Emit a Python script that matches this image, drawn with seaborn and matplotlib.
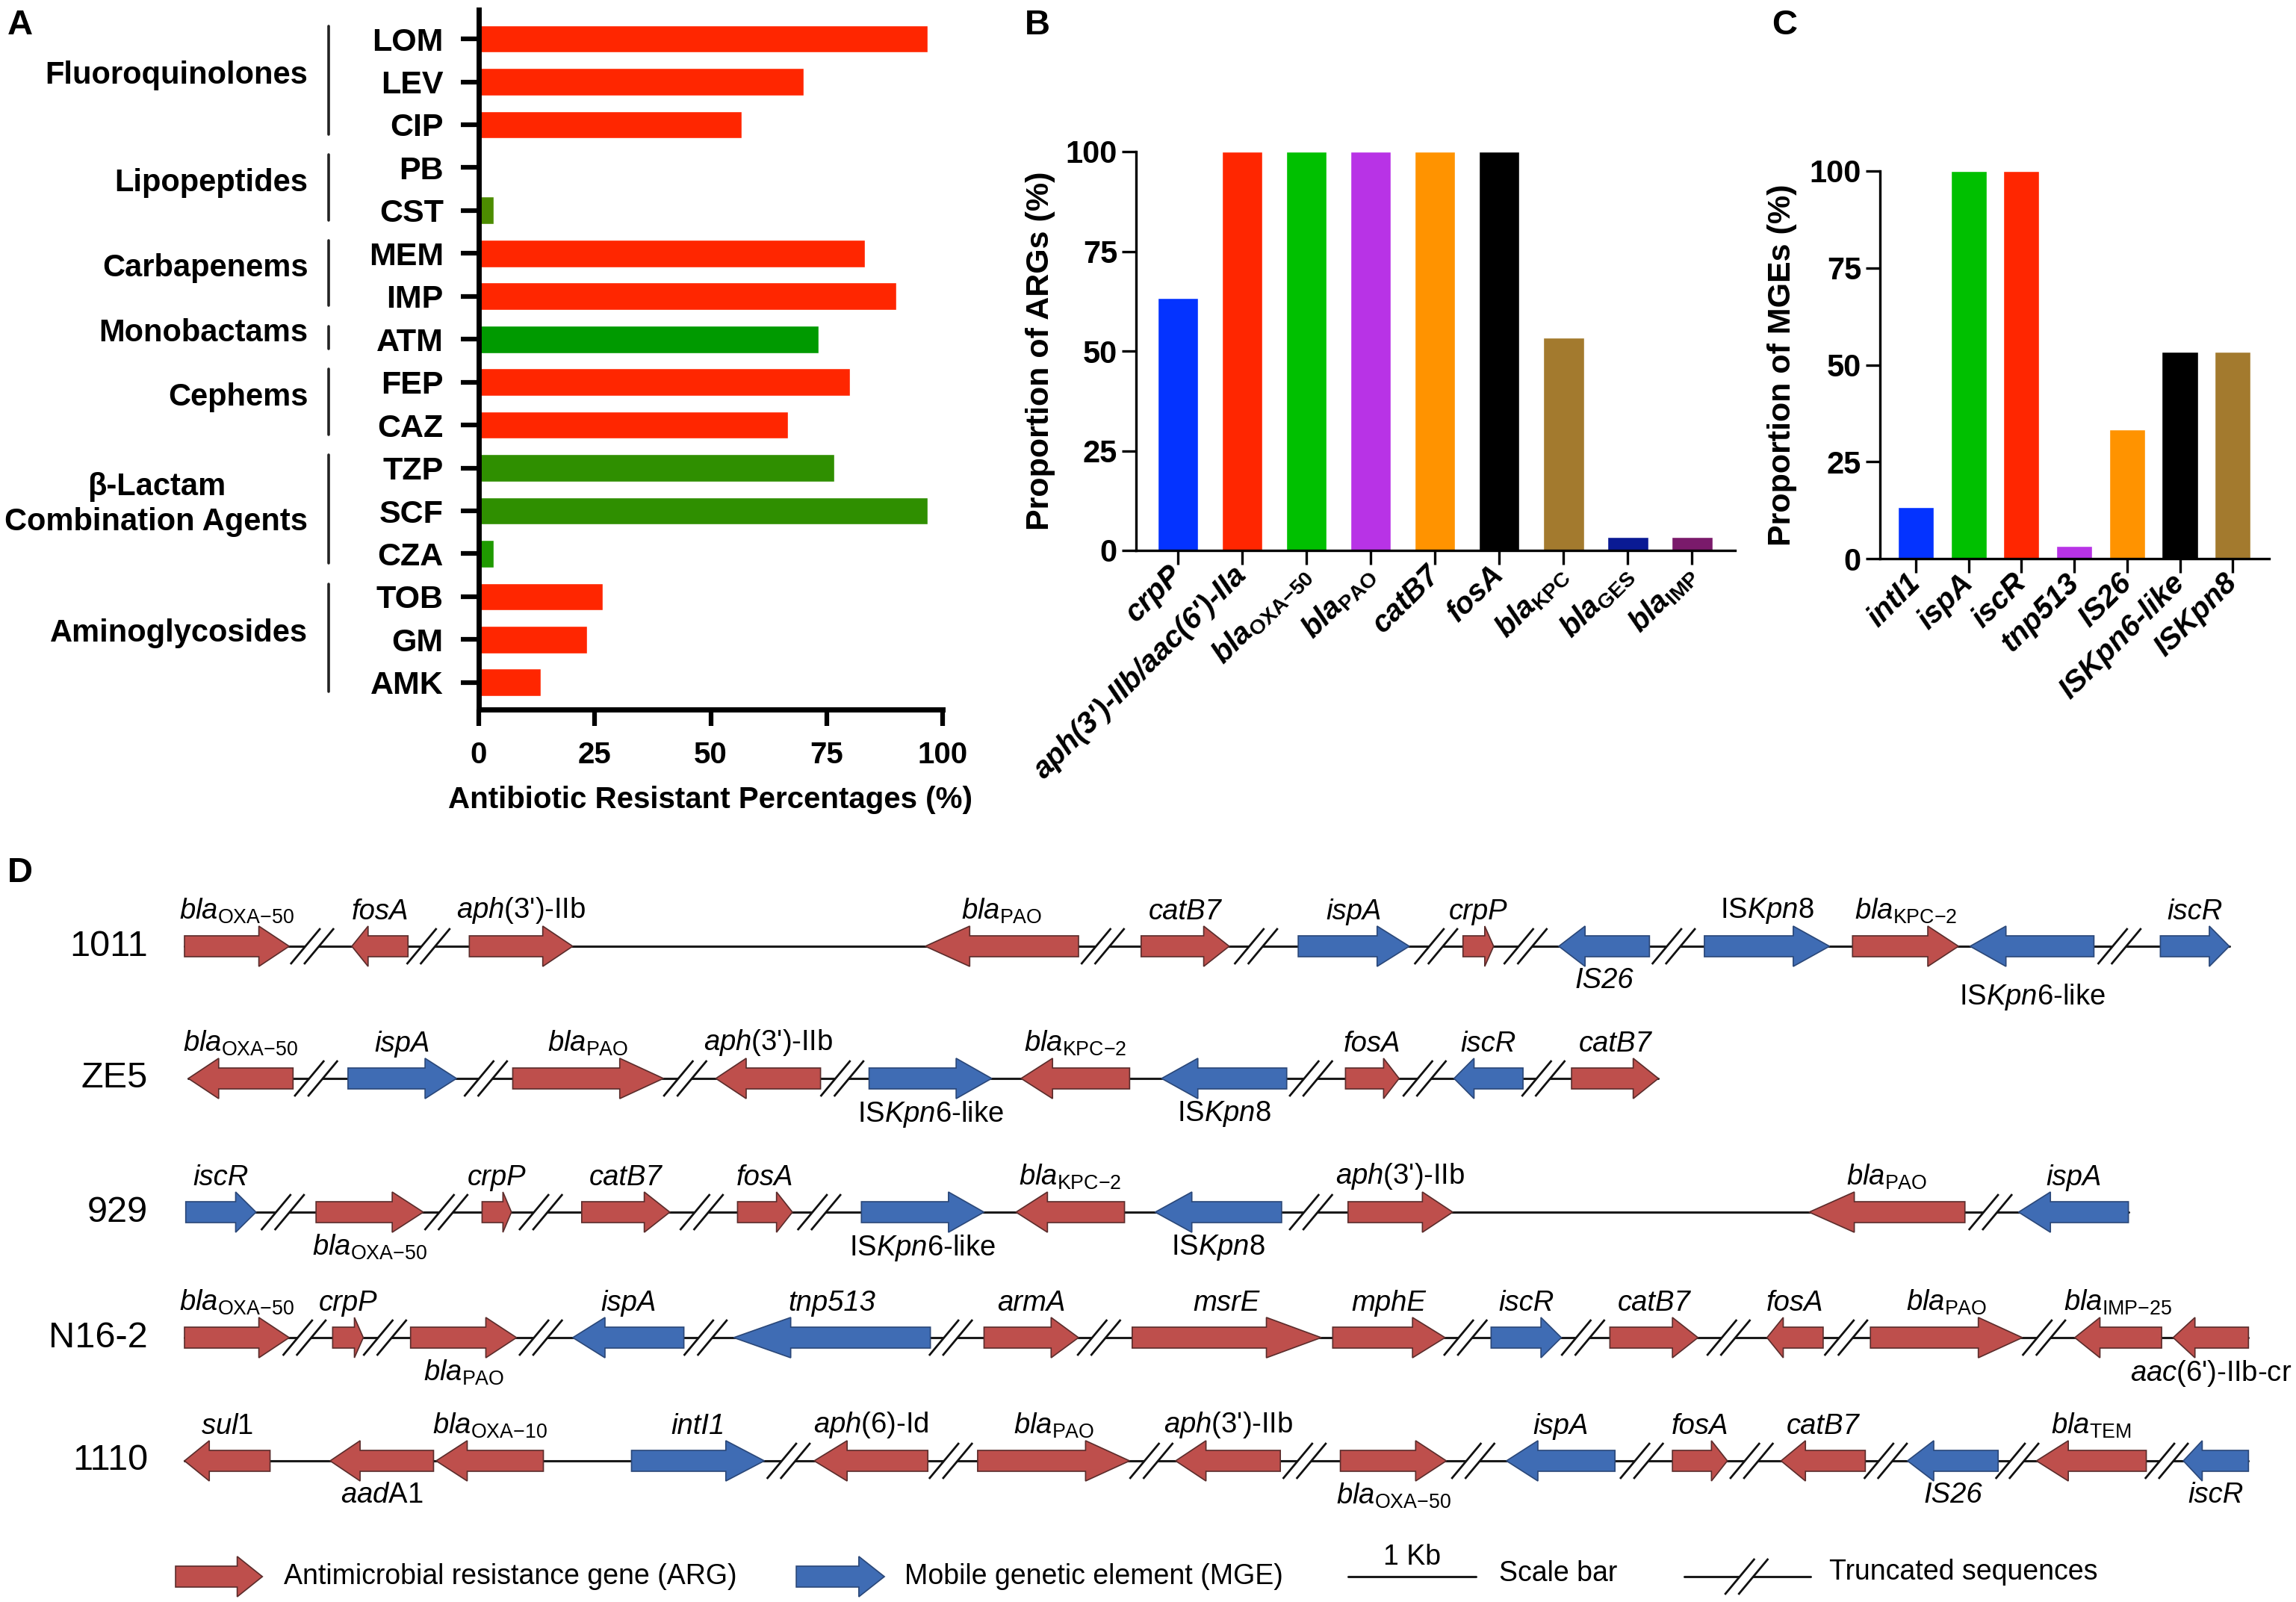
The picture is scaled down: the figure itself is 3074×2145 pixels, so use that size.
import numpy as np
import pandas as pd
import matplotlib
matplotlib.use("Agg")
import matplotlib.pyplot as plt
import seaborn as sns
from matplotlib.patches import Polygon
from matplotlib.transforms import blended_transform_factory

# ---------------- DATA ----------------
# Panel A
drugs = ["LOM", "LEV", "CIP", "PB", "CST", "MEM", "IMP", "ATM", "FEP", "CAZ",
         "TZP", "SCF", "CZA", "TOB", "GM", "AMK"]
resist_pct = [96.7, 70.0, 56.7, 0.0, 3.3, 83.3, 90.0, 73.3, 80.0, 66.7,
              76.7, 96.7, 3.3, 26.7, 23.3, 13.3]
drug_colors = ["#FF2600", "#FF2600", "#FF2600", "#4C8C00", "#4C8C00", "#FF2600", "#FF2600",
               "#009A00", "#FF2600", "#FF2600", "#2F8F00", "#2F8F00", "#1F9A00",
               "#FF2600", "#FF2600", "#FF2600"]
drug_classes = ["Fluoroquinolones", "Lipopeptides", "Carbapenems", "Monobactams",
                "Cephems", "β-Lactam\nCombination Agents", "Aminoglycosides"]
class_sizes = [3, 2, 2, 1, 2, 3, 3]

# Panel B
arg_labels = ["crpP", "aph(3')-IIb/aac(6')-IIa",
              r"$\mathbfit{bla}_{\mathbf{OXA{-}50}}$", r"$\mathbfit{bla}_{\mathbf{PAO}}$",
              "catB7", "fosA", r"$\mathbfit{bla}_{\mathbf{KPC}}$",
              r"$\mathbfit{bla}_{\mathbf{GES}}$", r"$\mathbfit{bla}_{\mathbf{IMP}}$"]
arg_pct = [63.3, 100, 100, 100, 100, 100, 53.3, 3.3, 3.3]
arg_colors = ["#0433FF", "#FF2600", "#00C000", "#B833E6", "#FF9300", "#000000",
              "#A37A2E", "#0A1A94", "#7A1A6B"]

# Panel C
mge_labels = ["intI1", "ispA", "iscR", "tnp513", "IS26", "ISKpn6-like", "ISKpn8"]
mge_pct = [13.3, 100, 100, 3.3, 33.3, 53.3, 53.3]
mge_colors = ["#0433FF", "#00C000", "#FF2600", "#B833E6", "#FF9300", "#000000", "#A37A2E"]

# Panel D  (positions in kb; strand; type; label; label side)
OXA50 = r"$\mathit{bla}_{\mathrm{OXA{-}50}}$"
OXA10 = r"$\mathit{bla}_{\mathrm{OXA{-}10}}$"
PAO = r"$\mathit{bla}_{\mathrm{PAO}}$"
KPC2 = r"$\mathit{bla}_{\mathrm{KPC{-}2}}$"
IMP25 = r"$\mathit{bla}_{\mathrm{IMP{-}25}}$"
TEM = r"$\mathit{bla}_{\mathrm{TEM}}$"
APH3 = r"$\mathit{aph}$(3')-IIb"
APH6 = r"$\mathit{aph}$(6)-Id"
AAC6 = r"$\mathit{aac}$(6')-IIb-cr"
KPN8 = r"IS$\mathit{Kpn}$8"
KPN6 = r"IS$\mathit{Kpn6}$-like"
SUL1 = r"$\mathit{sul}$1"
AADA1 = r"$\mathit{aad}$A1"

row_names = ["1011", "ZE5", "929", "N16-2", "1110"]

genes_1011 = [(0.00, 0.82, 1, "ARG", OXA50, "a"), (1.31, 1.75, -1, "ARG", "fosA", "a"),
              (2.23, 3.04, 1, "ARG", APH3, "a"), (5.80, 7.00, -1, "ARG", PAO, "a"),
              (7.49, 8.18, 1, "ARG", "catB7", "a"), (8.72, 9.59, 1, "MGE", "ispA", "a"),
              (10.01, 10.25, 1, "ARG", "crpP", "a"), (10.76, 11.47, -1, "MGE", "IS26", "b"),
              (11.90, 12.88, 1, "MGE", KPN8, "a"), (13.06, 13.89, 1, "ARG", KPC2, "a"),
              (13.98, 14.95, -1, "MGE", KPN6, "bb"), (15.47, 16.01, 1, "MGE", "iscR", "a")]
breaks_1011 = [1.00, 1.91, 7.19, 8.39, 9.80, 10.50, 11.66, 15.15]

genes_ZE5 = [(0.03, 0.85, -1, "ARG", OXA50, "a"), (1.28, 2.13, 1, "MGE", "ispA", "a"),
             (2.57, 3.75, 1, "ARG", PAO, "a"), (4.16, 4.98, -1, "ARG", APH3, "a"),
             (5.36, 6.32, 1, "MGE", KPN6, "b"), (6.55, 7.40, -1, "ARG", KPC2, "a"),
             (7.65, 8.63, -1, "MGE", KPN8, "b"), (9.09, 9.51, 1, "ARG", "fosA", "a"),
             (9.94, 10.48, -1, "MGE", "iscR", "a"), (10.86, 11.54, 1, "ARG", "catB7", "a")]
breaks_ZE5 = [1.03, 2.36, 3.92, 5.15, 8.82, 9.71, 10.64]

genes_929 = [(0.01, 0.56, 1, "MGE", "iscR", "a"), (1.03, 1.87, 1, "ARG", OXA50, "b"),
             (2.33, 2.56, 1, "ARG", "crpP", "a"), (3.11, 3.80, 1, "ARG", "catB7", "a"),
             (4.33, 4.76, 1, "ARG", "fosA", "a"), (5.30, 6.26, 1, "MGE", KPN6, "b"),
             (6.51, 7.36, -1, "ARG", KPC2, "a"), (7.60, 8.59, -1, "MGE", KPN8, "b"),
             (9.11, 9.93, 1, "ARG", APH3, "a"), (12.72, 13.94, -1, "ARG", PAO, "a"),
             (14.36, 15.22, -1, "MGE", "ispA", "a")]
breaks_929 = [0.77, 2.05, 2.79, 4.05, 4.97, 8.82, 14.14]

genes_N162 = [(0.00, 0.82, 1, "ARG", OXA50, "a"), (1.16, 1.40, 1, "ARG", "crpP", "a"),
              (1.77, 2.60, 1, "ARG", PAO, "b"), (3.04, 3.91, -1, "MGE", "ispA", "a"),
              (4.30, 5.84, -1, "MGE", "tnp513", "a"), (6.26, 7.00, 1, "ARG", "armA", "a"),
              (7.42, 8.90, 1, "ARG", "msrE", "a"), (8.99, 9.87, 1, "ARG", "mphE", "a"),
              (10.23, 10.78, 1, "MGE", "iscR", "a"), (11.16, 11.85, 1, "ARG", "catB7", "a"),
              (12.39, 12.83, -1, "ARG", "fosA", "a"), (13.20, 14.39, 1, "ARG", PAO, "a"),
              (14.80, 15.48, -1, "ARG", IMP25, "a"), (15.57, 16.16, -1, "ARG", AAC6, "b")]
breaks_N162 = [0.94, 1.57, 2.79, 4.08, 6.00, 7.16, 10.03, 10.95, 12.09, 13.01, 14.56]

genes_1110 = [(0.00, 0.67, -1, "ARG", SUL1, "a"), (1.14, 1.95, -1, "ARG", AADA1, "b"),
              (1.97, 2.81, -1, "ARG", OXA10, "a"), (3.50, 4.54, 1, "MGE", "intI1", "a"),
              (4.93, 5.82, -1, "ARG", APH6, "a"), (6.21, 7.40, 1, "ARG", PAO, "a"),
              (7.76, 8.58, -1, "ARG", APH3, "a"), (9.05, 9.88, 1, "ARG", OXA50, "b"),
              (10.35, 11.20, -1, "MGE", "ispA", "a"), (11.65, 12.08, 1, "ARG", "fosA", "a"),
              (12.50, 13.16, -1, "ARG", "catB7", "a"), (13.49, 14.20, -1, "MGE", "IS26", "b"),
              (14.50, 15.36, -1, "ARG", TEM, "a"), (15.65, 16.16, -1, "MGE", "iscR", "b")]
breaks_1110 = [4.73, 6.00, 7.57, 8.77, 10.09, 11.41, 12.27, 13.32, 14.35, 15.52]

row_genes = [genes_1011, genes_ZE5, genes_929, genes_N162, genes_1110]
row_breaks = [breaks_1011, breaks_ZE5, breaks_929, breaks_N162, breaks_1110]

# ---------------- STYLE ----------------
sns.set_theme(style="ticks")
plt.rcParams["font.family"] = ["Liberation Sans", "DejaVu Sans"]
plt.rcParams.update({
    "text.color": "black", "axes.labelcolor": "black", "xtick.color": "black",
    "ytick.color": "black", "axes.edgecolor": "black",
    "mathtext.fontset": "custom", "mathtext.rm": "Liberation Sans",
    "mathtext.it": "Liberation Sans:italic", "mathtext.bf": "Liberation Sans:bold",
    "mathtext.sf": "Liberation Sans",
})
try:
    plt.rcParams["mathtext.bfit"] = "Liberation Sans:italic:bold"
except KeyError:
    pass

W, H = 3074, 2145
fig = plt.figure(figsize=(W / 100, H / 100), dpi=100)


def rect(l, t, r, b):
    return [l / W, 1 - b / H, (r - l) / W, (b - t) / H]


# ---------------- PANEL D (full-figure axis, drawn first) ----------------
KB = 171.0
X0 = 247.0
axD = fig.add_axes([0, 0, 1, 1], zorder=0)
axD.set_xlim(-X0 / KB, (W - X0) / KB)
axD.set_ylim(H, 0)
axD.axis("off")
axD.patch.set_alpha(0)

row_y = [1267, 1444, 1623, 1791, 1956]
BH, HH = 14, 27
FILL = {"ARG": "#BE4F4C", "MGE": "#3F6CB4"}
EDGE = {"ARG": "#5a2c2b", "MGE": "#2a4778"}
GENE_FS = 27.5


def arrow(ax, x0, x1, yc, strand, kind, hl=None):
    L = x1 - x0
    if hl is None:
        hl = 0.29 * L
    if strand > 0:
        xs = [x0, x1 - hl, x1 - hl, x1, x1 - hl, x1 - hl, x0]
    else:
        xs = [x1, x0 + hl, x0 + hl, x0, x0 + hl, x0 + hl, x1]
    ys = [yc - BH, yc - BH, yc - HH, yc, yc + HH, yc + BH, yc + BH]
    ax.add_patch(Polygon(np.column_stack([xs, ys]), closed=True, fc=FILL[kind],
                         ec=EDGE[kind], lw=1.2, zorder=3))


def brk(ax, xc, yc):
    off, dx, dy = 0.053, 0.117, 24
    ax.add_patch(Polygon([(xc - off - dx, yc + dy), (xc - off + dx, yc - dy),
                          (xc + off + dx, yc - dy), (xc + off - dx, yc + dy)],
                         closed=True, fc="white", ec="none", zorder=2))
    for o in (-off, off):
        ax.plot([xc + o - dx, xc + o + dx], [yc + dy, yc - dy], color="#111111",
                lw=2.0, zorder=2.5, solid_capstyle="butt")


for name, yc, genes, breaks in zip(row_names, row_y, row_genes, row_breaks):
    xs = min(g[0] for g in genes)
    xe = max(g[1] for g in genes)
    axD.plot([xs, xe], [yc, yc], color="#1a1a1a", lw=2.2, zorder=1)
    axD.text(198 / KB - X0 / KB, yc, name, ha="right", va="center", fontsize=35)
    for (g0, g1, st, kind, lab, pos) in genes:
        arrow(axD, g0, g1, yc, st, kind)
        xc = (g0 + g1) / 2
        style = "normal" if "$" in lab else "italic"
        if pos == "a":
            axD.text(xc, yc - 28, lab, ha="center", va="bottom", fontsize=GENE_FS, fontstyle=style)
        elif pos == "b":
            axD.text(xc, yc + 28, lab, ha="center", va="top", fontsize=GENE_FS, fontstyle=style)
        else:
            axD.text(xc, yc + 48, lab, ha="center", va="top", fontsize=GENE_FS, fontstyle=style)
    for b in breaks:
        brk(axD, b, yc)

# legend of panel D
ly = 2111
arrow(axD, -0.07, 0.61, ly, 1, "ARG")
axD.text(0.78, ly, "Antimicrobial resistance gene (ARG)", ha="left", va="center", fontsize=27)
arrow(axD, 4.79, 5.48, ly, 1, "MGE")
axD.text(5.64, ly, "Mobile genetic element (MGE)", ha="left", va="center", fontsize=27)
axD.plot([9.11, 10.11], [ly, ly], color="#1a1a1a", lw=2.2)
axD.text(9.61, ly - 8, "1 Kb", ha="center", va="bottom", fontsize=27)
axD.text(10.29, ly - 4, "Scale bar", ha="left", va="center", fontsize=27)
axD.plot([11.74, 12.73], [ly, ly], color="#1a1a1a", lw=2.2, zorder=1)
brk(axD, 12.23, ly)
axD.text(12.88, ly - 6, "Truncated sequences", ha="left", va="center", fontsize=27)

# ---------------- PANEL A ----------------
axA = fig.add_axes(rect(641, 13, 1262, 950), zorder=2)
dfA = pd.DataFrame({"drug": drugs, "pct": resist_pct})
sns.barplot(data=dfA, x="pct", y="drug", hue="drug", palette=dict(zip(drugs, drug_colors)),
            legend=False, width=0.64, saturation=1, ax=axA)
axA.set_xlim(0, 100)
axA.set_ylim(15.63, -0.68)
axA.set_xticks([0, 25, 50, 75, 100])
axA.set_ylabel("")
axA.set_xlabel("Antibiotic Resistant Percentages (%)", fontsize=29, fontweight="bold", labelpad=16)
sns.despine(ax=axA)
for s in ("left", "bottom"):
    axA.spines[s].set_linewidth(5)
axA.tick_params(axis="y", length=17, width=4.5, pad=17, labelsize=31, left=True)
axA.tick_params(axis="x", length=16, width=4.5, pad=14, labelsize=29, bottom=True)
for t in axA.get_yticklabels() + axA.get_xticklabels():
    t.set_fontweight("bold")
axA.patch.set_alpha(0)

trans = blended_transform_factory(axA.transAxes, axA.transData)
start = 0
for cname, n in zip(drug_classes, class_sizes):
    first, last = start, start + n - 1
    axA.plot([-0.324, -0.324], [first - 0.3, last + 0.22], transform=trans,
             color="#222222", lw=2.6, clip_on=False)
    axA.text(-0.368, (first + last) / 2 - 0.15, cname, transform=trans, ha="right",
             va="center", fontsize=30, fontweight="bold", multialignment="center",
             linespacing=1.25)
    start += n

# ---------------- PANEL B ----------------
axB = fig.add_axes(rect(1521, 203, 2323, 737), zorder=2)
dfB = pd.DataFrame({"gene": arg_labels, "pct": arg_pct})
sns.barplot(data=dfB, x="gene", y="pct", hue="gene", palette=dict(zip(arg_labels, arg_colors)),
            legend=False, width=0.634, saturation=1, ax=axB)
axB.set_ylim(0, 100)
axB.set_xlim(-0.65, 8.67)
axB.set_yticks([0, 25, 50, 75, 100])
axB.set_xlabel("")
axB.set_ylabel("Proportion of ARGs (%)", fontsize=31, fontweight="bold", labelpad=10)
sns.despine(ax=axB)
for s in ("left", "bottom"):
    axB.spines[s].set_linewidth(2.4)
axB.tick_params(axis="y", length=14, width=2.4, pad=4, labelsize=30, left=True)
axB.tick_params(axis="x", length=14, width=2.4, pad=5, labelsize=29, bottom=True)
for t in axB.get_yticklabels():
    t.set_fontweight("bold")
for t in axB.get_xticklabels():
    t.set_fontweight("bold")
    t.set_fontstyle("italic")
    t.set_rotation(45)
    t.set_ha("right")
    t.set_va("center")
    t.set_rotation_mode("anchor")
axB.patch.set_alpha(0)

# ---------------- PANEL C ----------------
axC = fig.add_axes(rect(2517, 229, 3038, 748), zorder=2)
dfC = pd.DataFrame({"gene": mge_labels, "pct": mge_pct})
sns.barplot(data=dfC, x="gene", y="pct", hue="gene", palette=dict(zip(mge_labels, mge_colors)),
            legend=False, width=0.68, saturation=1, ax=axC)
axC.set_ylim(0, 100)
axC.set_xlim(-0.68, 6.69)
axC.set_yticks([0, 25, 50, 75, 100])
axC.set_xlabel("")
axC.set_ylabel("Proportion of MGEs (%)", fontsize=31, fontweight="bold", labelpad=12)
sns.despine(ax=axC)
for s in ("left", "bottom"):
    axC.spines[s].set_linewidth(2.4)
axC.tick_params(axis="y", length=14, width=2.4, pad=4, labelsize=30, left=True)
axC.tick_params(axis="x", length=14, width=2.4, pad=5, labelsize=29, bottom=True)
for t in axC.get_yticklabels():
    t.set_fontweight("bold")
for t in axC.get_xticklabels():
    t.set_fontweight("bold")
    t.set_fontstyle("italic")
    t.set_rotation(45)
    t.set_ha("right")
    t.set_va("center")
    t.set_rotation_mode("anchor")
axC.patch.set_alpha(0)

# ---------------- panel letters ----------------
for letter, x, y in (("A", 10, 12), ("B", 1372, 12), ("C", 2372, 12), ("D", 10, 1147)):
    fig.text(x / W, 1 - y / H, letter, ha="left", va="top", fontsize=34, fontweight="bold")

fig.savefig("out.png", dpi=100, facecolor="white")
